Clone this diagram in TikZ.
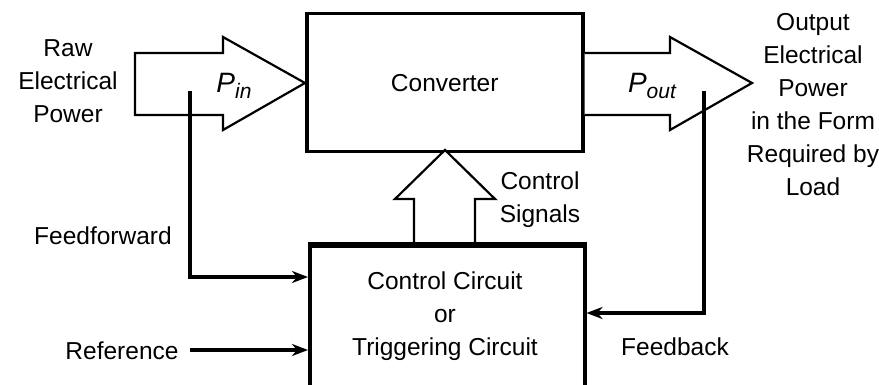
\documentclass[tikz,border=0pt]{standalone}
\usepackage{fontspec}
\setmainfont{Liberation Sans}
\usetikzlibrary{arrows.meta}
\newcommand{\pwr}[1]{{\fontsize{28}{28}\selectfont\itshape P\raisebox{-6pt}{\fontsize{21}{21}\selectfont #1}}}
\begin{document}
\begin{tikzpicture}[x=1pt,y=-1pt,
  lbl/.style={font=\fontsize{24.5}{33}\selectfont, align=center, inner sep=0pt},
  blk/.style={draw, line width=3.5pt, fill=white},
  fat/.style={draw, line width=2.2pt, line join=miter, fill=white},
  sig/.style={line width=3.4pt, -{Stealth[length=16pt,width=12pt,inset=5pt]}}]
\useasboundingbox (0,0) rectangle (879,385);

% main blocks
\node[blk, minimum width=276pt, minimum height=138pt, anchor=north west, inner sep=0pt] (conv) at (305,12) {};
\node[lbl] at (conv.center) {Converter};
\node[blk, minimum width=275pt, minimum height=160pt, anchor=north west, inner sep=0pt] (ctrl) at (308,244) {};
\node[lbl] (ctrltxt) at (445,316) {Control Circuit\\or\\Triggering Circuit};

% power flow arrows
\draw[fat] (135,53) -- (223,53) -- (223,37) -- (conv.west |- 0,83) -- (223,130) -- (223,115) -- (135,115) -- cycle;
\draw[fat] (conv.east |- 0,53) -- (670,53) -- (670,37) -- (752,83) -- (670,130) -- (670,115) -- (conv.east |- 0,115);
\draw[fat] (414,244) -- (414,199) -- (395,199) -- (445,150) -- (495,199) -- (475,199) -- (475,244);
\draw[line width=3.5pt] (ctrl.north west) -- (ctrl.north east);

\node[lbl] (pin) at (234,86) {\pwr{in}};
\node[lbl] (pout) at (652,86) {\pwr{out}};

% signal paths
\coordinate (ffs) at (190,91);
\coordinate (ffc) at (190,277);
\draw[sig, line join=miter] (ffs) -- (ffc) -- (ctrl.west |- ffc);
\coordinate (fbs) at (704,91);
\coordinate (fbc) at (704,313);
\draw[sig, line join=miter] (fbs) -- (fbc) -- (ctrl.east |- fbc);
\coordinate (refs) at (190,350);
\draw[sig] (refs) -- (ctrl.west |- refs);

% labels
\node[lbl] (raw) at (68,81) {Raw\\Electrical\\Power};
\node[lbl] (outp) at (813,105) {Output\\Electrical\\Power\\in the Form\\Required by\\Load};
\node[lbl] (cs) at (540,200) {Control\\Signals};
\node[lbl] (ff) at (103,236) {Feedforward};
\node[lbl] (ref) at (122,351) {Reference};
\node[lbl] (fb) at (675,347) {Feedback};
\end{tikzpicture}
\end{document}
